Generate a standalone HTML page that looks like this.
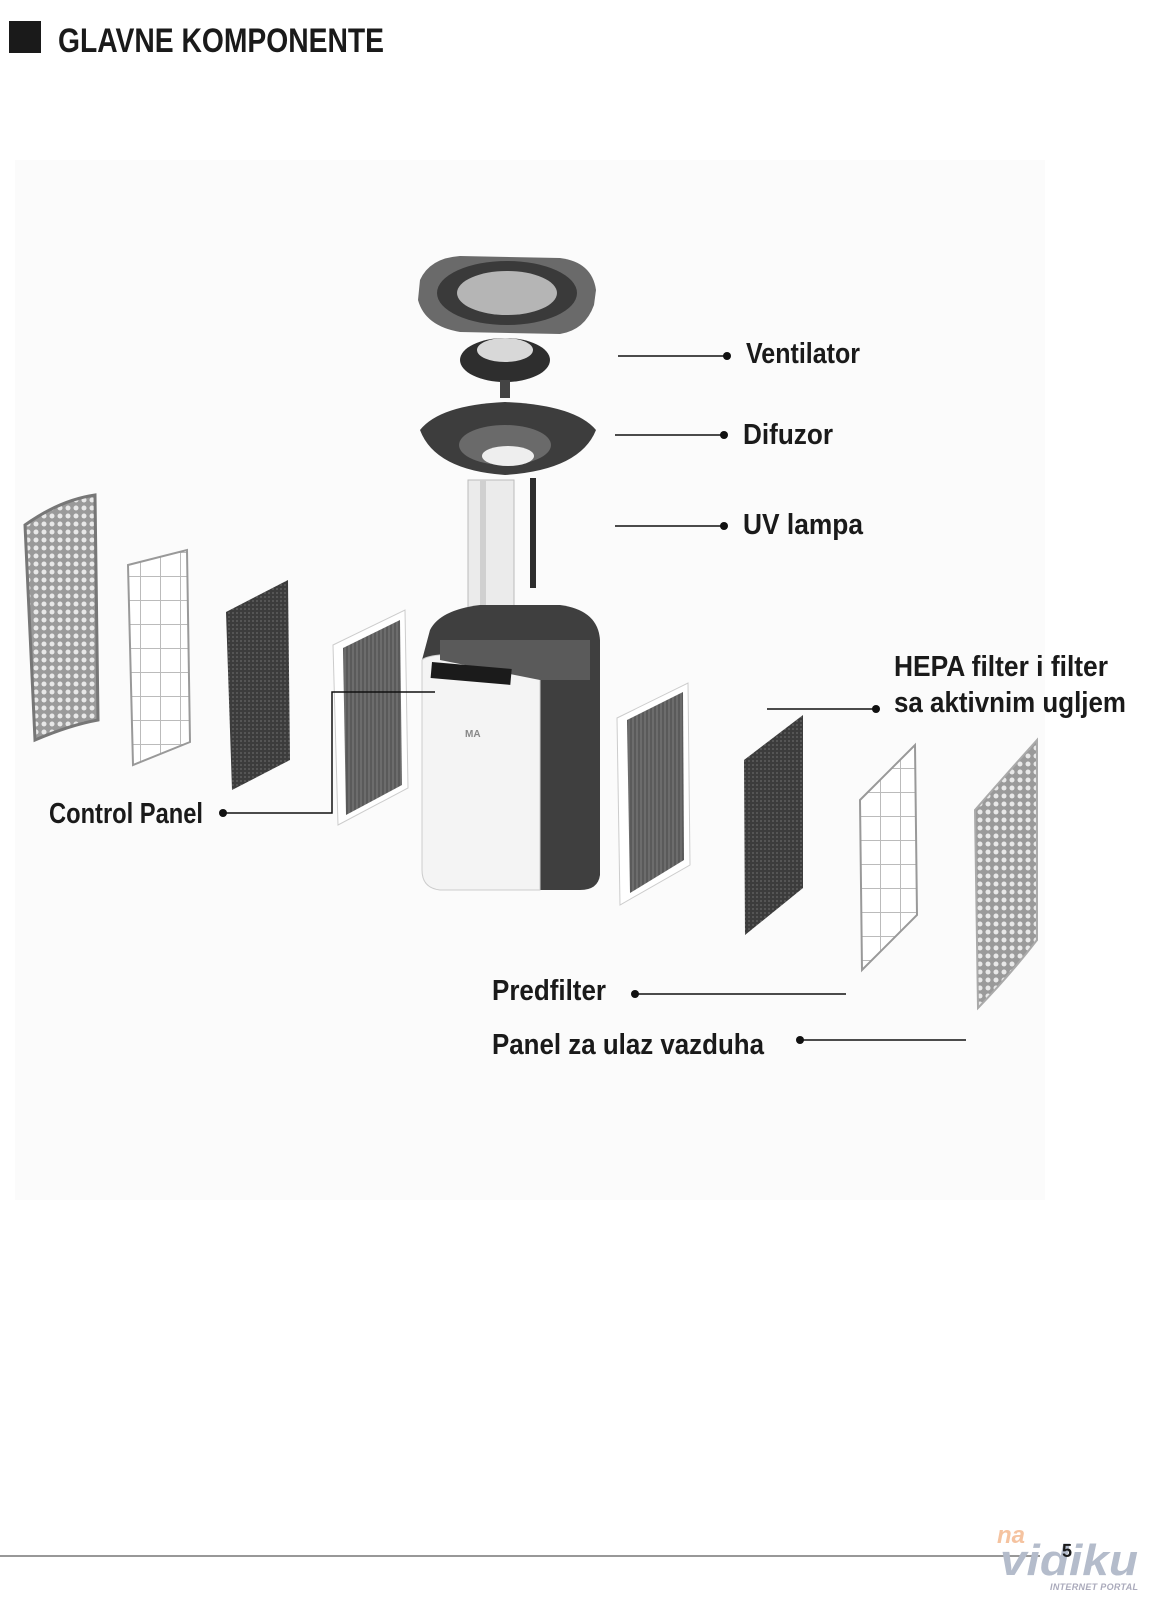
<!DOCTYPE html>
<html><head><meta charset="utf-8"><style>
html,body{margin:0;padding:0;background:#fff;}
body{width:1154px;height:1600px;position:relative;overflow:hidden;}
svg{position:absolute;left:0;top:0;}
text{font-family:"Liberation Sans Narrow","Liberation Sans",sans-serif;font-weight:bold;fill:#1a1a1a;}
</style></head><body>
<svg width="1154" height="1600" viewBox="0 0 1154 1600">
<defs>
<pattern id="mesh" width="8" height="8" patternUnits="userSpaceOnUse"><rect width="8" height="8" fill="#9a9a9a"/><circle cx="4" cy="4" r="2.5" fill="#e8e8e8"/></pattern>
<pattern id="grid" width="20" height="24" patternUnits="userSpaceOnUse"><rect width="20" height="24" fill="#fff"/><path d="M0 0H20M0 0V24" stroke="#bbb" stroke-width="2"/></pattern>
<pattern id="carbon" width="4" height="4" patternUnits="userSpaceOnUse"><rect width="4" height="4" fill="#3c3c3c"/><rect width="2" height="2" fill="#555"/></pattern>
<pattern id="hepa" width="4" height="4" patternUnits="userSpaceOnUse"><rect width="4" height="4" fill="#5a5a5a"/><rect width="2" height="4" fill="#6c6c6c"/></pattern>
</defs>
<rect x="15" y="160" width="1030" height="1040" fill="#fbfbfb"/>
<rect x="9" y="21" width="32" height="32" fill="#1a1a1a"/>
<text x="58" y="52" font-size="34" textLength="326" lengthAdjust="spacingAndGlyphs">GLAVNE KOMPONENTE</text>

<path d="M420 280 Q430 258 460 256 L560 258 Q592 262 596 290 L594 305 Q585 330 560 334 L460 332 Q425 326 418 300 Z" fill="#6a6a6a"/>
<ellipse cx="507" cy="293" rx="70" ry="32" fill="#3a3a3a"/>
<ellipse cx="507" cy="293" rx="50" ry="22" fill="#b5b5b5"/>
<ellipse cx="505" cy="360" rx="45" ry="22" fill="#2e2e2e"/>
<ellipse cx="505" cy="350" rx="28" ry="12" fill="#d8d8d8"/>
<rect x="500" y="380" width="10" height="18" fill="#444"/>
<path d="M420 430 Q440 405 505 402 Q575 405 596 430 Q580 470 505 475 Q435 470 420 430 Z" fill="#3d3d3d"/>
<ellipse cx="505" cy="445" rx="46" ry="20" fill="#6a6a6a"/>
<ellipse cx="508" cy="456" rx="26" ry="10" fill="#eee"/>
<rect x="468" y="480" width="46" height="130" fill="#ebebeb" stroke="#bbb"/>
<rect x="480" y="480" width="6" height="130" fill="#d0d0d0"/>
<rect x="530" y="478" width="6" height="110" fill="#2d2d2d"/>
<path d="M430 630 Q440 610 480 605 L560 605 Q598 610 600 640 L600 875 Q598 890 580 890 L440 890 Q422 888 422 870 L422 660 Z" fill="#3f3f3f"/>
<path d="M422 660 Q430 650 540 655 L540 890 L440 890 Q422 888 422 870 Z" fill="#f4f4f4" stroke="#ccc"/>
<path d="M440 640 L590 640 L590 680 L540 680 L440 660 Z" fill="#5a5a5a"/>
<rect x="432" y="662" width="80" height="16" fill="#1b1b1b" transform="rotate(5 432 662)"/>
<text x="465" y="737" font-size="10" style="fill:#888">MA</text>
<path d="M25 525 Q60 500 95 495 L98 720 Q70 725 35 740 Z" fill="url(#mesh)" stroke="#777" stroke-width="3"/>
<path d="M128 565 L187 550 L190 742 L133 765 Z" fill="url(#grid)" stroke="#999" stroke-width="2"/>
<path d="M226 612 L288 580 L290 760 L232 790 Z" fill="url(#carbon)"/>
<path d="M333 645 L405 610 L408 788 L338 825 Z" fill="#fff" stroke="#ccc"/>
<path d="M343 648 L400 620 L402 785 L346 815 Z" fill="url(#hepa)"/>
<path d="M617 718 L688 683 L690 865 L620 905 Z" fill="#fff" stroke="#ccc"/>
<path d="M627 720 L683 692 L684 860 L630 893 Z" fill="url(#hepa)"/>
<path d="M744 760 L803 715 L803 888 L745 935 Z" fill="url(#carbon)"/>
<path d="M860 800 L915 745 L917 915 L862 970 Z" fill="url(#grid)" stroke="#999" stroke-width="2"/>
<path d="M975 810 Q1010 770 1037 740 L1037 940 Q1010 975 978 1008 Z" fill="url(#mesh)" stroke="#aaa" stroke-width="2"/>

<g stroke="#111" stroke-width="1.5" fill="none">
<path d="M618 356H727"/><path d="M615 435H724"/><path d="M615 526H724"/>
<path d="M767 709H876"/>
<path d="M435 692H332V813H223"/>
<path d="M635 994H846"/><path d="M800 1040H966"/>
</g>
<g fill="#111">
<circle cx="727" cy="356" r="4"/><circle cx="724" cy="435" r="4"/><circle cx="724" cy="526" r="4"/>
<circle cx="876" cy="709" r="4"/><circle cx="223" cy="813" r="4"/><circle cx="635" cy="994" r="4"/><circle cx="800" cy="1040" r="4"/>
</g>
<g font-size="29">
<text x="746" y="363" textLength="114" lengthAdjust="spacingAndGlyphs">Ventilator</text>
<text x="743" y="444" textLength="90" lengthAdjust="spacingAndGlyphs">Difuzor</text>
<text x="743" y="534" textLength="120" lengthAdjust="spacingAndGlyphs">UV lampa</text>
<text x="894" y="676" textLength="214" lengthAdjust="spacingAndGlyphs">HEPA filter i filter</text>
<text x="894" y="712" textLength="232" lengthAdjust="spacingAndGlyphs">sa aktivnim ugljem</text>
<text x="49" y="823" textLength="154" lengthAdjust="spacingAndGlyphs">Control Panel</text>
<text x="492" y="1000" textLength="114" lengthAdjust="spacingAndGlyphs">Predfilter</text>
<text x="492" y="1054" textLength="272" lengthAdjust="spacingAndGlyphs">Panel za ulaz vazduha</text>
</g>
<path d="M0 1556H1040" stroke="#777" stroke-width="1.5"/>
<text x="997" y="1543" font-size="24" style="fill:#f5c3a0;font-style:italic">na</text>
<text x="1000" y="1575" font-size="44" style="fill:#b4bccb;font-style:italic" textLength="138" lengthAdjust="spacingAndGlyphs">vidiku</text>
<text x="1062" y="1557" font-size="18">5</text>
<text x="1050" y="1590" font-size="9" style="fill:#aab;font-style:italic" textLength="88" lengthAdjust="spacing">INTERNET PORTAL</text>
</svg>
</body></html>
